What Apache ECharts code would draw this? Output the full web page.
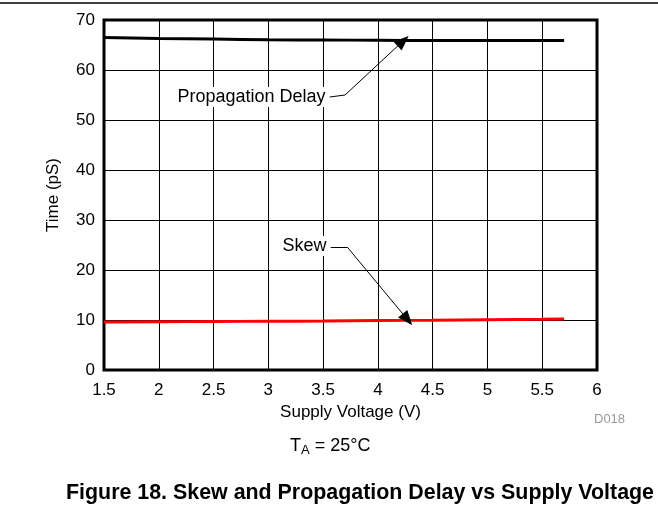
<!DOCTYPE html>
<html><head><meta charset="utf-8">
<script src="https://cdn.jsdelivr.net/npm/echarts@6/dist/echarts.min.js"></script>
<style>html,body{margin:0;padding:0;background:#fff}#c{width:658px;height:519px}</style>
</head><body><div id="c"></div>
<script>
var voltage = [1.5, 2, 2.5, 3, 3.5, 4, 4.5, 5, 5.5, 5.7];
var propDelay = [66.5, 66.3, 66.2, 66.05, 66.0, 65.95, 65.9, 65.9, 65.9, 65.9];
var skew = [9.6, 9.65, 9.7, 9.75, 9.8, 9.9, 9.95, 10.05, 10.15, 10.2];
var xTicks = [1.5, 2, 2.5, 3, 3.5, 4, 4.5, 5, 5.5, 6];
var yTicks = [0, 10, 20, 30, 40, 50, 60, 70];

var font = 'Liberation Sans, Arial, sans-serif';
function pairs(xs, ys){ return xs.map(function(x,i){return [x, ys[i]];}); }
var annLabel = {show:true, position:'left', distance:0, fontFamily:font, fontSize:18, color:'#000', backgroundColor:'#fff', padding:[1,2,1,2]};

var chart = echarts.init(document.getElementById('c'), null, {renderer:'canvas'});
chart.setOption({
  animation:false,
  backgroundColor:'#fff',
  grid:{left:104, top:20, width:493, height:350, show:true, borderColor:'#000', borderWidth:3, backgroundColor:'transparent'},
  xAxis:{type:'value', min:xTicks[0], max:xTicks[xTicks.length-1], interval:0.5,
    name:'Supply Voltage (V)', nameLocation:'middle', nameGap:32,
    nameTextStyle:{fontFamily:font, fontSize:17, color:'#000'},
    axisLine:{show:false}, axisTick:{show:false},
    axisLabel:{fontFamily:font, fontSize:17, color:'#000', margin:12},
    splitLine:{show:true, lineStyle:{color:'#000', width:1}}},
  yAxis:{type:'value', min:yTicks[0], max:yTicks[yTicks.length-1], interval:10,
    name:'Time (pS)', nameLocation:'middle', nameGap:42,
    nameTextStyle:{fontFamily:font, fontSize:17, color:'#000'},
    axisLine:{show:false}, axisTick:{show:false},
    axisLabel:{fontFamily:font, fontSize:17, color:'#000', margin:9},
    splitLine:{show:true, lineStyle:{color:'#000', width:1}}},
  series:[
    {name:'Propagation Delay', type:'line', data:pairs(voltage, propDelay), showSymbol:false, smooth:true,
     lineStyle:{color:'#000', width:3}, z:5,
     markPoint:{symbol:'rect', symbolSize:0, z:10, data:[{coord:[3.54,54.6], label:Object.assign({formatter:'Propagation Delay'}, annLabel)}]}
    },
    {name:'Arrows', type:'line', data:[], z:6,
     markLine:{silent:true, symbol:['none','none'], lineStyle:{color:'#000', width:1, type:'solid'}, label:{show:false},
       data:[
         [{coord:[3.56,54.6]},{coord:[3.70,55.0]}],
         [{coord:[3.57,24.6]},{coord:[3.72,24.6]}]
       ]}
    },
    {name:'ArrowHeads', type:'line', data:[], z:6,
     markLine:{silent:true, symbol:['none','triangle'], symbolSize:[12,15], lineStyle:{color:'#000', width:1, type:'solid'}, label:{show:false},
       data:[
         [{coord:[3.70,55.0]},{coord:[4.23,65.8]}],
         [{coord:[3.72,24.6]},{coord:[4.27,10.1]}]
       ]}
    },
    {name:'Skew', type:'line', data:pairs(voltage, skew), showSymbol:false, smooth:true,
     lineStyle:{color:'#ff0000', width:3}, z:4,
     markPoint:{symbol:'rect', symbolSize:0, z:10, data:[{coord:[3.55,24.8], label:Object.assign({formatter:'Skew'}, annLabel)}]}
    }
  ],
  graphic:[
    {type:'line', shape:{x1:0, y1:3, x2:658, y2:3}, style:{stroke:'#000', lineWidth:1.5}},
    {type:'text', left:594, top:413, style:{text:'D018', fontFamily:font, fontSize:13, fill:'#999'}},
    {type:'text', left:290, top:437, style:{rich:{
        a:{fontFamily:font, fontSize:18, fill:'#000'},
        s:{fontFamily:font, fontSize:13, fill:'#000', verticalAlign:'bottom', padding:[8,0,0,0]}
      }, text:'{a|T}{s|A}{a| = 25°C}'}},
    {type:'text', left:66, top:483, style:{text:'Figure 18. Skew and Propagation Delay vs Supply Voltage', fontFamily:font, fontSize:21.4, fontWeight:'bold', fill:'#000'}}
  ]
});
</script></body></html>
